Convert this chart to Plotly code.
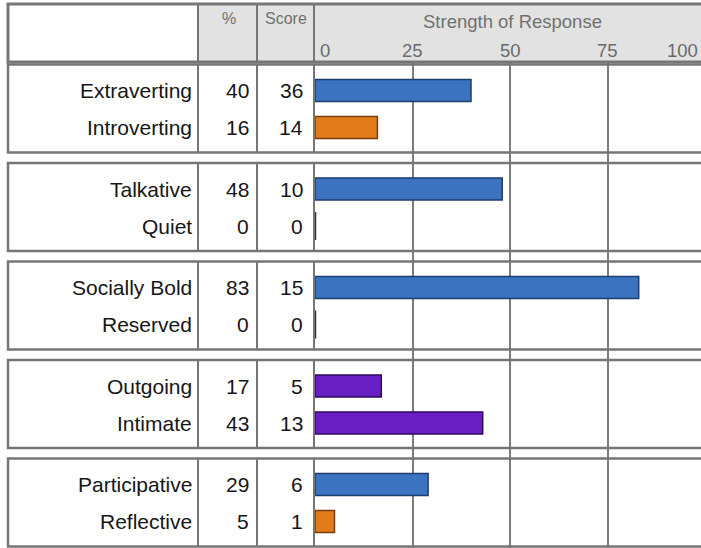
"""
Perfil de respuesta: tabla con porcentaje, puntaje y barras de intensidad.
"""

import plotly.graph_objects as go

W, H = 701, 548
FONT = "Liberation Sans, Arial, sans-serif"

# Datos
labels = ["Extraverting", "Introverting", "Talkative", "Quiet",
          "Socially Bold", "Reserved", "Outgoing", "Intimate",
          "Participative", "Reflective"]
pct = [40, 16, 48, 0, 83, 0, 17, 43, 29, 5]
score = [36, 14, 10, 0, 15, 0, 5, 13, 6, 1]
pole = ["first", "second", "first", "second", "first", "second",
        "mid", "mid", "first", "second"]
ticks = [0, 25, 50, 75, 100]

# Estilos
FILL = {"first": "#3b73c1", "second": "#e27b1a", "mid": "#6a1fc4"}
EDGE = {"first": "#1d3c70", "second": "#7a3e0c", "mid": "#2c0a5c"}
BORDER = "#767676"

# Geometría (pixeles de la página)
LEFT, RIGHT = 8, 712
HEAD_TOP, HEAD_BOT = 4, 62
COL_SEP = [198, 257, 314]
PLOT_X0 = 315
PX_PER_UNIT = 3.9
G_TOP0, G_STEP, G_H = 64.5, 98.5, 88
ROW_OFF = (26, 63)


def px(x):
    return x / W


def py(y):
    return 1 - y / H


n_groups = len(labels) // 2
group_top = [G_TOP0 + G_STEP * g for g in range(n_groups)]
row_y = [group_top[i // 2] + ROW_OFF[i % 2] for i in range(len(labels))]

fig = go.Figure()

fig.add_trace(go.Bar(
    x=pct, y=row_y, orientation="h", width=22,
    marker=dict(color=[FILL[p] for p in pole],
                line=dict(color=[EDGE[p] for p in pole], width=1.5)),
    hoverinfo="skip",
))

# Barras en cero: solo el borde
zero_idx = [i for i, v in enumerate(pct) if v == 0]
fig.add_trace(go.Scatter(
    x=[pct[i] for i in zero_idx], y=[row_y[i] for i in zero_idx],
    mode="markers", hoverinfo="skip",
    marker=dict(symbol="line-ns", size=20, line=dict(color="#333333", width=2.5)),
))

shapes = []
# Encabezado
shapes.append(dict(type="rect", xref="paper", yref="paper",
                   x0=px(COL_SEP[0]), x1=px(RIGHT), y0=py(HEAD_BOT), y1=py(HEAD_TOP),
                   fillcolor="#e2e2e2", line=dict(width=0), layer="below"))
shapes.append(dict(type="rect", xref="paper", yref="paper",
                   x0=px(LEFT), x1=px(RIGHT), y0=py(HEAD_BOT), y1=py(HEAD_TOP),
                   line=dict(color=BORDER, width=3)))
for xs in COL_SEP:
    shapes.append(dict(type="line", xref="paper", yref="paper",
                       x0=px(xs), x1=px(xs), y0=py(HEAD_BOT), y1=py(HEAD_TOP),
                       line=dict(color=BORDER, width=2)))

# Cajas de cada grupo
for top in group_top:
    shapes.append(dict(type="rect", xref="paper", yref="paper",
                       x0=px(LEFT), x1=px(RIGHT), y0=py(top + G_H), y1=py(top),
                       line=dict(color=BORDER, width=2.5)))
    for xs in COL_SEP:
        shapes.append(dict(type="line", xref="paper", yref="paper",
                           x0=px(xs), x1=px(xs), y0=py(top + G_H), y1=py(top),
                           line=dict(color=BORDER, width=2)))

ann = []
row_font = dict(family=FONT, size=21, color="#161616")
for i, lab in enumerate(labels):
    yy = py(row_y[i])
    ann.append(dict(x=px(194), y=yy, text=lab, xanchor="right"))
    ann.append(dict(x=px(251), y=yy, text=str(pct[i]), xanchor="right"))
    ann.append(dict(x=px(305), y=yy, text=str(score[i]), xanchor="right"))
for a in ann:
    a.update(xref="paper", yref="paper", yanchor="middle", showarrow=False, font=row_font)

head_font = dict(family=FONT, size=16, color="#707070")
ann.append(dict(x=px(229), y=py(19), text="%", font=head_font))
ann.append(dict(x=px(286), y=py(19), text="Score", font=head_font))
ann.append(dict(x=px(512), y=py(21), text="Strength of Response",
                font=dict(family=FONT, size=18.5, color="#707070")))
for t in ticks:
    anchor = "left" if t == ticks[0] else ("right" if t == ticks[-1] else "center")
    xpos = min(PLOT_X0 + t * PX_PER_UNIT, W - 1)
    ann.append(dict(x=px(xpos), y=py(50), text=str(t),
                    xanchor=anchor, xshift=3 if anchor == "left" else 0,
                    font=dict(family=FONT, size=18.5, color="#6a6a6a")))
for a in ann[3 * len(labels):]:
    a.setdefault("xanchor", "center")
    a.update(xref="paper", yref="paper", yanchor="middle", showarrow=False)

fig.update_layout(
    width=W, height=H, autosize=False,
    margin=dict(l=0, r=0, t=0, b=0),
    plot_bgcolor="white", paper_bgcolor="white",
    showlegend=False,
    shapes=shapes, annotations=ann,
    xaxis=dict(domain=[px(PLOT_X0), 1], range=[0, (W - PLOT_X0) / PX_PER_UNIT],
               tickvals=ticks, showgrid=True, gridcolor="#7d7d7d", gridwidth=2,
               showticklabels=False, zeroline=False, showline=False, ticks=""),
    yaxis=dict(domain=[0, py(HEAD_BOT + 1)], range=[H, HEAD_BOT + 1],
               visible=False),
)

fig.write_html("out.html", config={"displayModeBar": False},
               post_script="document.body.style.margin='0px';")
